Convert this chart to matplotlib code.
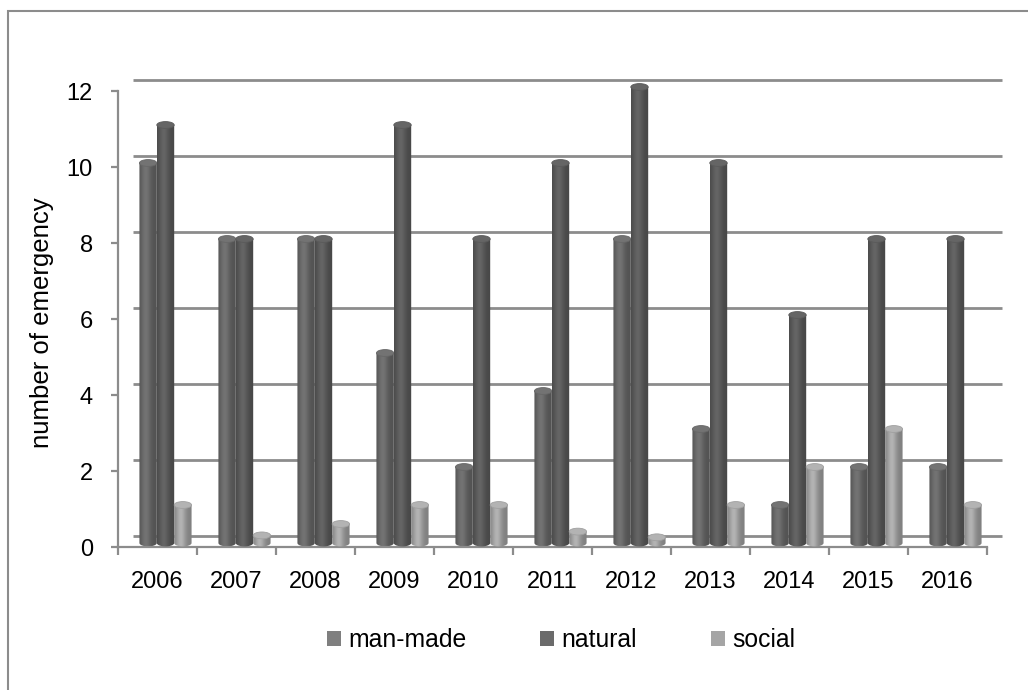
import numpy as np
import matplotlib.pyplot as plt
from matplotlib.patches import Ellipse, Patch, Rectangle, PathPatch
from matplotlib.path import Path
from matplotlib.transforms import ScaledTranslation
from matplotlib.colors import to_rgb

plt.rcParams['font.family'] = ['Liberation Sans', 'DejaVu Sans']

years = ['2006', '2007', '2008', '2009', '2010', '2011',
         '2012', '2013', '2014', '2015', '2016']
man_made = [10, 8, 8, 5, 2, 4, 8, 3, 1, 2, 2]
natural = [11, 8, 8, 11, 8, 10, 12, 10, 6, 8, 8]
social = [1, 0.2, 0.5, 1, 1, 0.3, 0.15, 1, 2, 3, 1]
series_names = ['man-made', 'natural', 'social']
yticks = [0, 2, 4, 6, 8, 10, 12]

bar_colors = ['#676767', '#5a5a5a', '#a0a0a0']
legend_colors = ['#7f7f7f', '#6b6b6b', '#a5a5a5']
line_col = '#8c8c8c'

W, H = 1028, 690
fig = plt.figure(figsize=(W / 100, H / 100), dpi=100)
ax = fig.add_axes([118 / W, 1 - 547 / H, 869 / W, 456 / H])
ax.patch.set_alpha(0)

x = np.arange(len(years))
xlo, xhi = -0.5, len(years) - 0.5

# depth offsets in pixels: back wall and middle of the floor
wall = ax.transData + ScaledTranslation(0.15, 0.11, fig.dpi_scale_trans)
mid = ax.transData + ScaledTranslation(0.08, 0.04, fig.dpi_scale_trans)

# back wall gridlines
for v in yticks:
    ax.plot([xlo, xhi], [v, v], color=line_col, lw=2.0, transform=wall,
            clip_on=False, solid_capstyle='butt', zorder=1)


def join(xv, yv):
    # diagonal from the front plane to the back wall
    p0 = ax.transData.transform((xv, yv))
    p1 = wall.transform((xv, yv))
    fig.add_artist(plt.Line2D([p0[0] / W, p1[0] / W], [p0[1] / H, p1[1] / H],
                              color=line_col, lw=1.6))


for v in yticks:
    join(xlo, v)
join(xhi, 0)


def shade(color, n=64):
    base = np.array(to_rgb(color))
    t = np.linspace(0, 1, n)
    f = 0.8 + 0.32 * np.exp(-((t - 0.38) / 0.28) ** 2)
    img = np.clip(base[None, :] * f[:, None], 0, 1)
    return np.repeat(img[None, :, :], 2, axis=0)


bw = 0.22
eh = 0.18
for k, vals in enumerate([man_made, natural, social]):
    grad = shade(bar_colors[k])
    top_col = np.clip(np.array(to_rgb(bar_colors[k])) * 1.12, 0, 1)
    for i, v in enumerate(vals):
        cx = x[i] + (k - 1) * bw
        x0, x1 = cx - bw / 2, cx + bw / 2
        t = np.linspace(np.pi, 0, 30)
        arc = np.column_stack([cx + bw / 2 * np.cos(t), -eh / 2 * np.sin(t)])
        verts = np.vstack([[x0, v], [x0, 0], arc, [x1, v], [x0, v]])
        clip = PathPatch(Path(verts, closed=True), transform=mid,
                         facecolor='none', edgecolor='none')
        ax.add_patch(clip)
        im = ax.imshow(grad, extent=(x0, x1, -eh, v), transform=mid,
                       aspect='auto', interpolation='bilinear', zorder=2 + k)
        im.set_clip_box(fig.bbox)
        im.set_clip_path(clip)
        ax.add_patch(Ellipse((cx, v), bw, eh, transform=mid, facecolor=top_col,
                             edgecolor=bar_colors[k], lw=0.6, zorder=2 + k,
                             clip_on=False))

ax.set_xlim(xlo, xhi)
ax.set_ylim(0, 12)
for s in ['top', 'right']:
    ax.spines[s].set_visible(False)
for s in ['left', 'bottom']:
    ax.spines[s].set_color(line_col)
    ax.spines[s].set_linewidth(1.6)

ax.set_yticks(yticks)
ax.set_yticklabels([str(v) for v in yticks])
ax.tick_params(axis='y', length=5, width=1.6, color=line_col, pad=13,
               labelsize=17)
ax.set_xticks(np.arange(len(years) + 1) - 0.5)
ax.set_xticklabels([])
ax.tick_params(axis='x', which='major', length=6, width=1.6, color=line_col)
ax.set_xticks(x, minor=True)
ax.set_xticklabels(years, minor=True)
ax.tick_params(axis='x', which='minor', length=0, pad=17, labelsize=17)

fig.text(42 / W, 1 - 323 / H, 'number of emergency', rotation=90,
         ha='center', va='center', fontsize=18.5)

handles = [Patch(facecolor=c, edgecolor='none') for c in legend_colors]
fig.legend(handles, series_names, loc='center', bbox_to_anchor=(561 / W, 1 - 640 / H),
           ncol=3, frameon=False, fontsize=17.8, handlelength=0.55,
           handleheight=0.55, handletextpad=0.3, columnspacing=3.0)

fig.add_artist(Rectangle((8 / W, -0.2), 1.2, 1.2 - 11 / H, fill=False,
                         edgecolor=line_col, lw=1.5))

fig.savefig('out.png', dpi=100)
